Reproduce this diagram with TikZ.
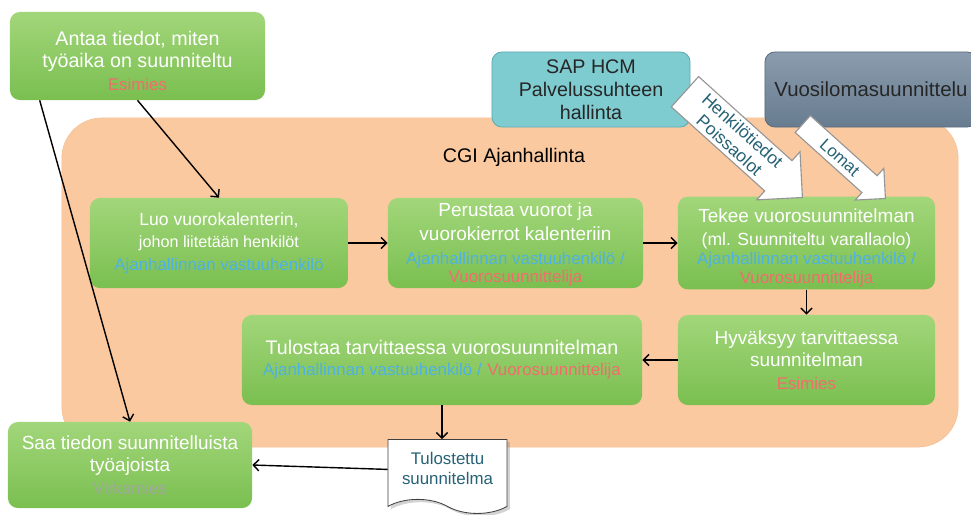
\documentclass[tikz,border=0pt]{standalone}
\usepackage{fontspec}
\setmainfont{Liberation Sans}
\usetikzlibrary{shapes.arrows,shapes.symbols,arrows.meta,shadows}
\definecolor{grntop}{RGB}{162,214,122}
\definecolor{grnbot}{RGB}{122,191,80}
\definecolor{peach}{RGB}{251,201,160}
\definecolor{peachline}{RGB}{244,192,148}
\definecolor{sapteal}{RGB}{126,203,208}
\definecolor{sapline}{RGB}{92,172,182}
\definecolor{vuositop}{RGB}{138,156,173}
\definecolor{vuosibot}{RGB}{104,124,144}
\definecolor{vuosiline}{RGB}{90,108,126}
\definecolor{roleblue}{RGB}{78,178,226}
\definecolor{rolered}{RGB}{242,108,108}
\definecolor{rolegrey}{RGB}{160,168,160}
\definecolor{docteal}{RGB}{38,98,118}
\definecolor{arrowline}{RGB}{150,150,150}
\newcommand{\roleb}[1]{{\fontsize{12}{13}\selectfont\color{roleblue}#1}}
\newcommand{\roler}[1]{{\fontsize{12}{13}\selectfont\color{rolered}#1}}
\newcommand{\roleg}[1]{{\fontsize{12}{13}\selectfont\color{rolegrey}#1}}
\begin{document}
\begin{tikzpicture}[x=0.025cm, y=-0.025cm,
    >={Straight Barb[length=4pt,width=8pt]},
    task/.style={rounded corners=7pt, top color=grntop, bottom color=grnbot, text=white, align=center, minimum height=2.25cm, inner sep=2pt, font=\fontsize{13.5}{17}\selectfont},
    sysbox/.style={rounded corners=7pt, align=center, minimum height=1.875cm, line width=0.6pt, font=\fontsize{14}{16.5}\selectfont},
    flow/.style={->, line width=1pt},
    bigarrow/.style={single arrow, draw=arrowline, fill=white, text=docteal, align=center, line width=0.8pt, inner sep=2.5pt, rotate=-42, anchor=tip, font=\fontsize{12.5}{14}\selectfont}]

    \useasboundingbox (0,0) rectangle (971,514);
    \clip (0,0) rectangle (971,514);

    \node[rounded corners=1cm, fill=peach, draw=peachline, minimum width=22.4cm, minimum height=8.225cm] (cgi) at (510,282.5) {};
    \node[font=\fontsize{14}{16}\selectfont] (cgititle) at (514,157) {CGI Ajanhallinta};

    \node[sysbox, fill=sapteal, draw=sapline, minimum width=4.95cm, text=black!85] (sap) at (591,89.5) {SAP HCM\\Palvelussuhteen\\hallinta};
    \node[sysbox, top color=vuositop, bottom color=vuosibot, draw=vuosiline, minimum width=5.3cm, text=black!85, font=\fontsize{14.5}{16.5}\selectfont] (vuosi) at (871,89.5) {Vuosilomasuunnittelu};

    \node[task, minimum width=6.375cm, minimum height=2.2cm, font=\fontsize{14}{16}\selectfont, text height=49pt] (antaa) at (137.5,56) {Antaa tiedot, miten\\työaika on suunniteltu\\\roler{Esimies}};
    \node[task, minimum width=6.45cm, font=\fontsize{12.5}{16}\selectfont] (luo) at (219,243) {Luo vuorokalenterin,\\{\fontsize{11.5}{13}\selectfont johon liitetään henkilöt}\\\roleb{Ajanhallinnan vastuuhenkilö}};
    \node[task, minimum width=6.375cm, text depth=-4.5pt] (perustaa) at (515.5,243) {Perustaa vuorot ja\\vuorokierrot kalenteriin\\\roleb{Ajanhallinnan vastuuhenkilö /}\\[-4pt]\roler{Vuorosuunnittelija}};
    \node[task, minimum width=6.425cm, font=\fontsize{13.5}{16.3}\selectfont, text height=59.5pt] (tekee) at (806.5,243) {Tekee vuorosuunnitelman\\{\fontsize{12.5}{14}\selectfont (ml. Suunniteltu varallaolo)}\\[-3pt]\roleb{Ajanhallinnan vastuuhenkilö /}\\[-3pt]\roler{Vuorosuunnittelija}};
    \node[task, minimum width=6.425cm, font=\fontsize{13.5}{16}\selectfont] (hyvaksyy) at (806.5,360) {Hyväksyy tarvittaessa\\suunnitelman\\\roler{Esimies}};
    \node[task, minimum width=10cm, font=\fontsize{14}{15}\selectfont] (tulostaa) at (442,360) {Tulostaa tarvittaessa vuorosuunnitelman\\\roleb{Ajanhallinnan vastuuhenkilö /} \roler{Vuorosuunnittelija}};
    \node[task, minimum width=6.1cm, minimum height=2.15cm, font=\fontsize{13.5}{16}\selectfont] (saa) at (130,465) {Saa tiedon suunnitelluista\\työajoista\\\roleg{Virkamies}};

    \node[tape, tape bend top=none, tape bend bottom=out and in, tape bend height=10pt, draw=black!75, fill=white, line width=0.6pt, drop shadow={shadow xshift=2pt, shadow yshift=-2pt, opacity=0.35}, text=docteal, align=center, minimum width=2.975cm, minimum height=1.85cm, text depth=1pt, anchor=north, font=\fontsize{12}{14}\selectfont] (doc) at (447.5,439) {Tulostettu\\suunnitelma};

    \node[bigarrow, minimum height=3.95cm, single arrow head extend=0.3cm] (henk) at (803,198) {Henkilötiedot\\Poissaolot};
    \node[bigarrow, minimum height=2.78cm, single arrow head extend=0.25cm, inner sep=3.5pt, font=\fontsize{12}{13}\selectfont] (lomat) at (886,199) {Lomat};

    \draw[flow] (antaa.south) -- (luo.north);
    \draw[flow] ([xshift=0.75cm]antaa.south west) -- (saa.north);
    \draw[flow] (luo) -- (perustaa);
    \draw[flow] (perustaa) -- (tekee);
    \draw[flow] (tekee) -- (hyvaksyy);
    \draw[flow] (hyvaksyy) -- (tulostaa);
    \draw[flow] (tulostaa.south) -- (tulostaa.south |- doc.north);
    \draw[flow] (doc.west) -- (saa.east);
\end{tikzpicture}
\end{document}
